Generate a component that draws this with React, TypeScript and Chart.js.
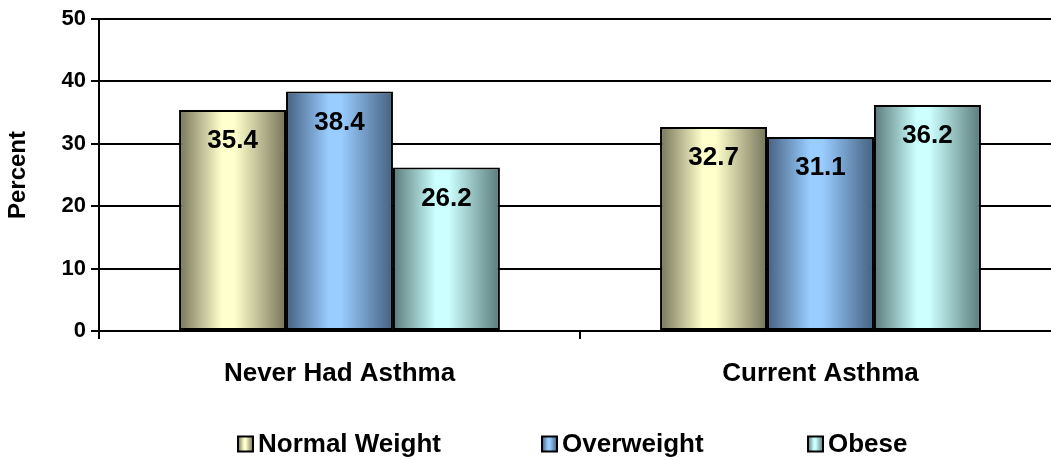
import React, { useEffect, useRef } from "react";
import { Chart, registerables } from "chart.js";

Chart.register(...registerables);

const categories = ["Never Had Asthma", "Current Asthma"];
const seriesNames = ["Normal Weight", "Overweight", "Obese"];
const normalWeight = [35.4, 32.7];
const overweight = [38.4, 31.1];
const obese = [26.2, 36.2];
const yTicks = [0, 10, 20, 30, 40, 50];

const FONT = '"Liberation Sans", Arial, sans-serif';

// [edge, center] colours of each series' horizontal shading
const shades: [string, string][] = [
  ["#77755a", "#ffffcc"],
  ["#45607f", "#99ccff"],
  ["#5a7a7a", "#ccffff"],
];

function makeGradient(ctx: CanvasRenderingContext2D, left: number, right: number, idx: number) {
  const g = ctx.createLinearGradient(left, 0, right, 0);
  const [edge, center] = shades[idx];
  g.addColorStop(0, edge);
  g.addColorStop(0.4, center);
  g.addColorStop(0.52, center);
  g.addColorStop(1, edge);
  return g;
}

const CAT_PCT = 0.667;

const valueLabels = {
  id: "valueLabels",
  afterDatasetsDraw(chart: any) {
    const ctx = chart.ctx;
    ctx.save();
    ctx.font = `bold 26px ${FONT}`;
    ctx.fillStyle = "#000";
    ctx.textAlign = "center";
    ctx.textBaseline = "middle";
    chart.data.datasets.forEach((ds: any, di: number) => {
      const meta = chart.getDatasetMeta(di);
      meta.data.forEach((bar: any, i: number) => {
        ctx.fillText(String(ds.data[i].toFixed(1)), bar.x, bar.y + 31);
      });
    });
    ctx.restore();
  },
};

const customLegend = {
  id: "customLegend",
  afterDraw(chart: any, _args: any, opts: any) {
    const ctx = chart.ctx;
    ctx.save();
    ctx.font = `bold 26px ${FONT}`;
    ctx.textBaseline = "middle";
    ctx.textAlign = "left";
    chart.data.datasets.forEach((ds: any, di: number) => {
      const x = opts.xs[di];
      const y = opts.y;
      const s = opts.box;
      ctx.fillStyle = makeGradient(ctx, x, x + s, di);
      ctx.fillRect(x, y - s / 2, s, s);
      ctx.lineWidth = 2;
      ctx.strokeStyle = "#000";
      ctx.strokeRect(x, y - s / 2, s, s);
      ctx.fillStyle = "#000";
      ctx.fillText(ds.label, x + s + 5, y + 1);
    });
    ctx.restore();
  },
};

export default function App() {
  const ref = useRef<HTMLCanvasElement>(null);
  useEffect(() => {
    const canvas = ref.current!;
    const seriesData = [normalWeight, overweight, obese];
    const chart = new Chart(canvas, {
      type: "bar",
      data: {
        labels: categories,
        datasets: seriesNames.map((name, di) => ({
          label: name,
          data: seriesData[di],
          borderColor: "#000",
          borderWidth: 2,
          borderSkipped: false,
          backgroundColor: (c: any) => {
            const ch = c.chart;
            const area = ch.chartArea;
            if (!area || c.dataIndex === undefined) return shades[di][1];
            const xs = ch.scales.x;
            const catW = (area.right - area.left) / categories.length;
            const groupW = catW * CAT_PCT;
            const barW = groupW / seriesNames.length;
            const center = xs.getPixelForValue(c.dataIndex);
            const left = center - groupW / 2 + di * barW;
            return makeGradient(ch.ctx, left, left + barW, di);
          },
        })),
      },
      options: {
        animation: false,
        responsive: false,
        devicePixelRatio: 1,
        layout: { padding: { left: 0, right: 1, top: 19, bottom: 0 } },
        datasets: { bar: { categoryPercentage: CAT_PCT, barPercentage: 1 } },
        plugins: {
          legend: { display: false },
          tooltip: { enabled: false },
          customLegend: { xs: [238, 542, 808], y: 444, box: 15 },
        } as any,
        scales: {
          x: {
            afterFit: (s: any) => {
              s.height = 129;
            },
            grid: {
              offset: true,
              drawOnChartArea: false,
              drawTicks: true,
              tickLength: 8,
              color: "#000",
              lineWidth: 2,
            },
            border: { display: true, color: "#000", width: 2 },
            ticks: {
              color: "#000",
              padding: 19,
              font: { family: FONT, size: 26, weight: "bold" },
              maxRotation: 0,
            },
          },
          y: {
            min: 0,
            max: 50,
            afterFit: (s: any) => {
              s.width = 99;
            },
            afterBuildTicks: (s: any) => {
              s.ticks = yTicks.map((v) => ({ value: v }));
            },
            grid: {
              color: "#000",
              lineWidth: 2,
              drawTicks: true,
              tickLength: 8,
            },
            border: { display: true, color: "#000", width: 2 },
            ticks: {
              color: "#000",
              padding: 5,
              font: { family: FONT, size: 22, weight: "bold" },
            },
            title: {
              display: true,
              text: "Percent",
              color: "#000",
              padding: { top: 4, bottom: 0 },
              font: { family: FONT, size: 24, weight: "bold" },
            },
          },
        },
      },
      plugins: [valueLabels, customLegend],
    });
    return () => chart.destroy();
  }, []);
  return (
    <div
      style={{
        position: "fixed",
        left: 0,
        top: 0,
        width: 1051,
        height: 460,
        overflow: "hidden",
        background: "#fff",
      }}
    >
      <canvas ref={ref} width={1062} height={460} style={{ display: "block" }} />
    </div>
  );
}
